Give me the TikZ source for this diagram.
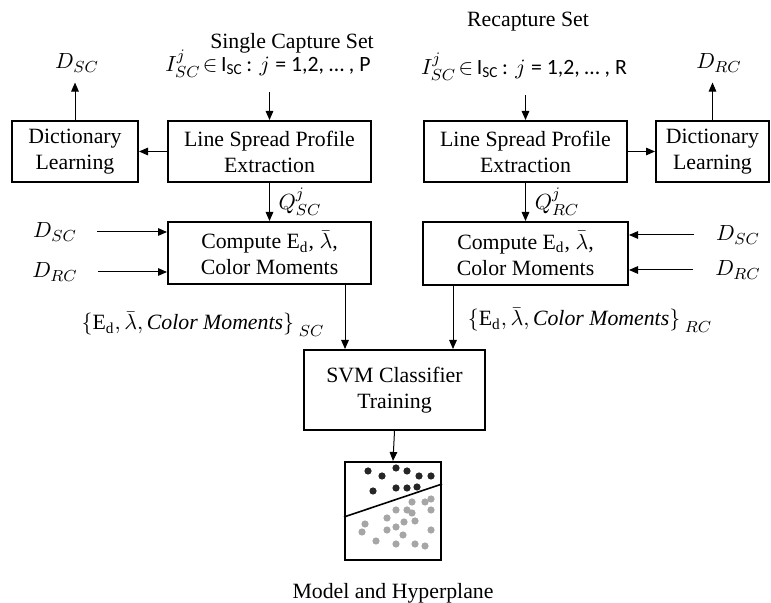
\documentclass[tikz,border=0pt]{standalone}
\usepackage{fontspec}
\setmainfont{Liberation Serif}
\setsansfont{Carlito}
\usetikzlibrary{arrows.meta,positioning}
\definecolor{dotdark}{RGB}{38,38,38}
\definecolor{dotgray}{RGB}{166,166,166}
\tikzset{
  blk/.style={draw, line width=1pt, align=center, inner sep=0pt, minimum height=30.5pt},
  arr/.style={-{Triangle[length=4.5pt,width=3.8pt]}, line width=0.5pt},
  lbl/.style={inner sep=0pt},
}
\newcommand{\txtsize}{\fontsize{10.9}{13}\selectfont}
\newcommand{\imgset}[1]{$I_{SC}^{j}\!\in$\,{\sffamily I\textsubscript{SC}\,:} $j$ {\sffamily = 1,2, … , #1}}
\newcommand{\featset}[1]{$\bigl\{\mathrm{E_d},\bar{\lambda},\mathit{Color\ Moments}\bigr\}_{\;#1}$}

\begin{document}
\begin{tikzpicture}[x=0.5pt,y=-0.5pt,font=\txtsize]
\useasboundingbox (0,0) rectangle (771,603);

% inputs on top
\node[lbl] (ttlSC) at (292,43) {Single Capture Set};
\node[lbl] (inSC) at (268,64) {\imgset{P}};
\node[lbl] (ttlRC) at (528,22) {Recapture Set};
\node[lbl] (inRC) at (524,67) {\imgset{R}};

% first row
\node[blk, minimum width=63pt] (dictL) at (75,151.5) {Dictionary\\Learning};
\node[blk, minimum width=101.5pt] (lspL) at (269.5,151.5) {Line Spread Profile\\Extraction};
\node[blk, minimum width=101.5pt] (lspR) at (525.5,151.5) {Line Spread Profile\\Extraction};
\node[blk, minimum width=56.5pt] (dictR) at (712.5,151.5) {Dictionary\\Learning};

% dictionaries out
\node[lbl] (dSCtop) at (77,63) {$D_{SC}$};
\node[lbl] (dRCtop) at (719,63) {$D_{RC}$};

% second row
\node[blk, minimum width=101.5pt, minimum height=31pt] (cmpL) at (269.5,253) {Compute $\mathrm{E_d}$, $\bar{\lambda}$,\\Color Moments};
\node[blk, minimum width=102.5pt, minimum height=31.5pt] (cmpR) at (525.5,253.5) {Compute $\mathrm{E_d}$, $\bar{\lambda}$,\\Color Moments};

% side inputs
\node[lbl] (dSCl) at (55,232) {$D_{SC}$};
\node[lbl] (dRCl) at (55,272) {$D_{RC}$};
\node[lbl] (dSCr) at (738,235) {$D_{SC}$};
\node[lbl] (dRCr) at (738,270) {$D_{RC}$};
\coordinate (aSCl) at ([xshift=10pt]dSCl.east);
\coordinate (aRCl) at ([xshift=10pt]dRCl.east);
\coordinate (aSCr) at ([xshift=-11pt]dSCr.west);
\coordinate (aRCr) at ([xshift=-11pt]dRCr.west);

\node[lbl] (qSC) at (300,202) {$Q_{SC}^{j}$};
\node[lbl] (qRC) at (557,202) {$Q_{RC}^{j}$};

% features
\node[lbl] (featSC) at (203,324) {\featset{SC}};
\node[lbl] (featRC) at (590,320) {\featset{RC}};

% classifier
\node[blk, minimum width=90.5pt, minimum height=40pt] (svm) at (394.5,390) {SVM Classifier\\Training};
\node[draw, line width=1pt, minimum width=48pt, minimum height=49pt, inner sep=0pt] (hyp) at (393,511) {};
\node[lbl] (model) at (393,593) {Model and Hyperplane};

% connectors
\draw[arr] ([yshift=-7pt]inSC.south -| lspL.north) -- (lspL.north);
\draw[arr] ([yshift=-7pt]inRC.south -| lspR.north) -- (lspR.north);
\draw[arr] (lspL.west) -- (dictL.east);
\draw[arr] (lspR.east) -- (dictR.west);
\draw[arr] (dictL.north) -- ([yshift=-5pt]dSCtop.south -| dictL.north);
\draw[arr] (dictR.north) -- ([yshift=-5pt]dRCtop.south -| dictR.north);
\draw[arr] (lspL.south) -- (cmpL.north);
\draw[arr] (lspR.south) -- (cmpR.north);
\draw[arr] (aSCl) -- (aSCl -| cmpL.west);
\draw[arr] (aRCl) -- (aRCl -| cmpL.west);
\draw[arr] (aSCr) -- (aSCr -| cmpR.east);
\draw[arr] (aRCr) -- (aRCr -| cmpR.east);
\draw[arr] (cmpL.south -| 345,0) -- (svm.north -| 345,0);
\draw[arr] (cmpR.south -| 453,0) -- (svm.north -| 453,0);
\draw[arr] (svm.south) -- (hyp.north);

% scatter inside the model box
\foreach \p in {(368,471),(382,476),(396,468),(407,471),(419,476),(431,476),
                (373,491),(396,488),(407,488),(417,487)}
  \fill[dotdark] \p circle (1.8pt);
\foreach \p in {(412,502),(425,502),(431,499),(396,510),(407,510),(412,513),
                (431,510),(387,518),(404,522),(415,521),(396,527),(387,530),
                (365,524),(362,532),(403,535),(431,530),(376,541),(396,544),
                (415,544),(425,546)}
  \fill[dotgray] \p circle (1.8pt);
\draw[line width=0.8pt] (hyp.west |- 0,517) -- (hyp.east |- 0,484);
\end{tikzpicture}
\end{document}
